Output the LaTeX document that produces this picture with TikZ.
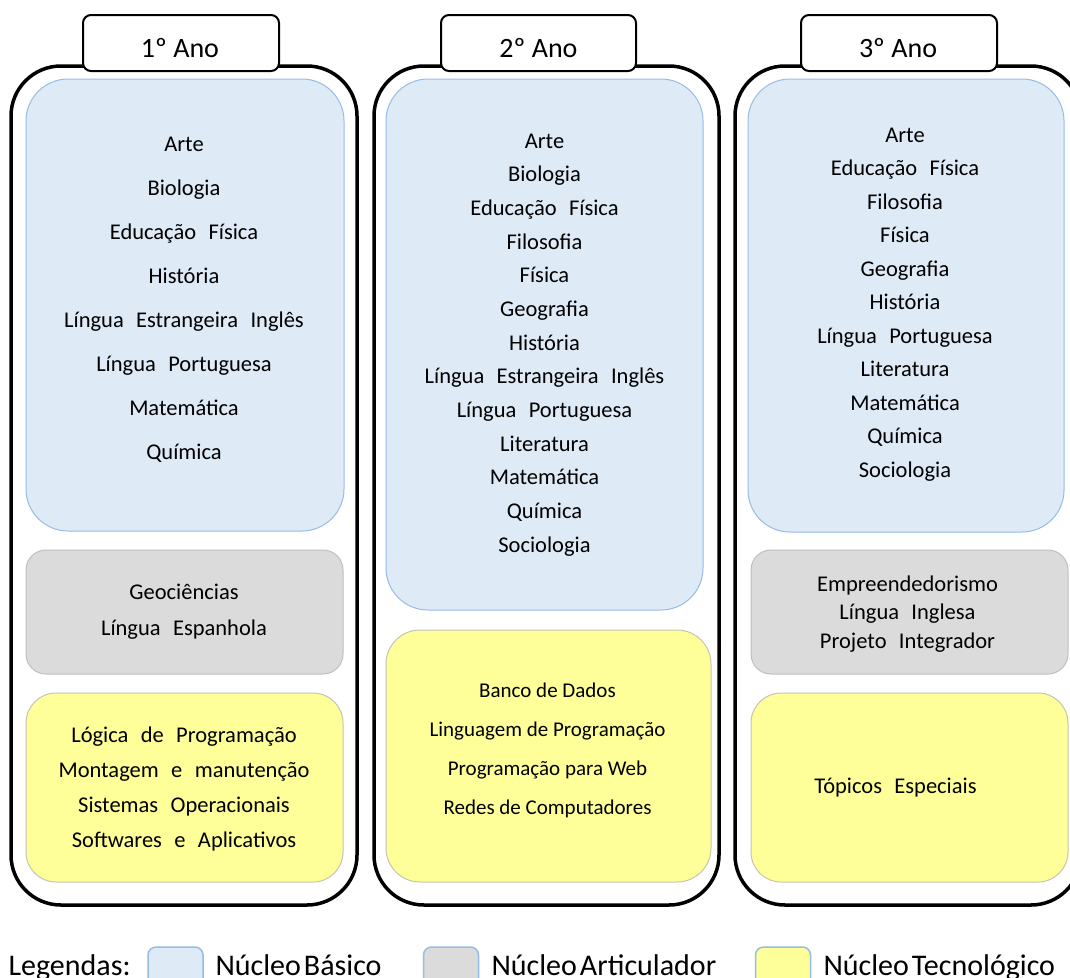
\documentclass[tikz,border=0pt]{standalone}
\usepackage{fontspec}
\setmainfont{Carlito}
\usepackage{tikz}

\newcommand\fontmateria{\fontsize{22.5}{27}\selectfont\spaceskip 0.55em\relax}
\newcommand\fontlegenda{\fontsize{30}{36}\selectfont\spaceskip 0.1em\relax}

\definecolor{basicofill}{HTML}{DEEAF6}
\definecolor{basicoline}{HTML}{95BDE6}
\definecolor{artfill}{HTML}{DBDBDB}
\definecolor{artline}{HTML}{BFBFBF}
\definecolor{tecfill}{HTML}{FFFF99}
\definecolor{tecline}{HTML}{C4C4B4}

\tikzset{
  yearbox/.style={draw, line width=3.5pt, rounded corners=50pt, fill=white, minimum width=346, minimum height=839},
  headbox/.style={draw, line width=2pt, rounded corners=8pt, fill=white, minimum width=196, minimum height=56},
  titulo/.style={anchor=base, font=\fontsize{28}{34}\selectfont},
  basico/.style={draw=basicoline, fill=basicofill, line width=1pt, rounded corners=42pt},
  articulador/.style={draw=artline, fill=artfill, line width=1pt, rounded corners=20pt},
  tecnologico/.style={draw=tecline, fill=tecfill, line width=1pt, rounded corners=30pt},
  materia/.style={anchor=base, font=\fontmateria},
  materiapeq/.style={anchor=base, font=\fontsize{21}{25}\selectfont},
  swatch/.style={draw=basicoline, line width=1.5pt, rounded corners=8pt, minimum width=55, minimum height=40},
  legenda/.style={anchor=base west, font=\fontlegenda}
}

\begin{document}
\begin{tikzpicture}[x=1pt, y=-1pt]
        \useasboundingbox (0,0) rectangle (1070,977);
        \fill[white] (0,0) rectangle (1070,977);

        \node (ano1) [yearbox] at (184,485.5) {};
        \node (ano2) [yearbox, minimum width=345] at (546.5,485.5) {};
        \node (ano3) [yearbox] at (908,485.5) {};

        \node (cab1) [headbox] at (181,43) {};
        \node (cab2) [headbox, minimum width=195] at (538.5,43) {};
        \node (cab3) [headbox] at (899,43) {};
        \node (tit1) [titulo] at (180,57) {1º Ano};
        \node (tit2) [titulo] at (538.5,57) {2º Ano};
        \node (tit3) [titulo] at (898,57) {3º Ano};

        \node (bas1) [basico, minimum width=318, minimum height=452] at (185,305) {};
        \node (art1) [articulador, minimum width=317, minimum height=124] at (184.5,612) {};
        \node (tec1) [tecnologico, minimum width=317, minimum height=189] at (184.5,787.5) {};

        \node (bas2) [basico, minimum width=317, minimum height=531] at (544.5,344.5) {};
        \node (tec2) [tecnologico, minimum width=325, minimum height=252, rounded corners=34pt] at (548.5,756) {};

        \node (bas3) [basico, minimum width=316, minimum height=453] at (906,305.5) {};
        \node (art3) [articulador, minimum width=317, minimum height=124] at (909.5,612) {};
        \node (tec3) [tecnologico, minimum width=317, minimum height=189] at (909.5,787.5) {};

        \foreach \nome [count=\i] in {Arte, Biologia, Educação Física, História, Língua Estrangeira Inglês, Língua Portuguesa, Matemática, Química}
            \node (mb1-\i) [materia] at (184,151+44*\i-44) {\nome};
        \foreach \nome [count=\i] in {Geociências, Língua Espanhola}
            \node (ma1-\i) [materia] at (184,599+36*\i-36) {\nome};
        \foreach \nome [count=\i] in {Lógica de Programação, Montagem e manutenção, Sistemas Operacionais, Softwares e Aplicativos}
            \node (mt1-\i) [materia] at (184,742+35*\i-35) {\nome};

        \foreach \nome [count=\i] in {Arte, Biologia, Educação Física, Filosofia, Física, Geografia, História, Língua Estrangeira Inglês, Língua Portuguesa, Literatura, Matemática, Química, Sociologia}
            \node (mb2-\i) [materia] at (544.5,148+33.67*\i-33.67) {\nome};
        \foreach \nome [count=\i] in {Banco de Dados, Linguagem de Programação, Programação para Web, Redes de Computadores}
            \node (mt2-\i) [materiapeq] at (547.5,697+39*\i-39) {\nome};

        \foreach \nome [count=\i] in {Arte, Educação Física, Filosofia, Física, Geografia, História, Língua Portuguesa, Literatura, Matemática, Química, Sociologia}
            \node (mb3-\i) [materia] at (905,142+33.5*\i-33.5) {\nome};
        \foreach \nome [count=\i] in {Empreendedorismo, Língua Inglesa, Projeto Integrador}
            \node (ma3-\i) [materia] at (907.5,591+28.5*\i-28.5) {\nome};
        \node (mt3-1) [materia] at (895.5,793) {Tópicos Especiais};

        \node (leg) [legenda] at (5,975) {Legendas:};
        \node (legbas) [swatch, fill=basicofill] at (175.5,967) {};
        \node (legart) [swatch, fill=artfill] at (451,967) {};
        \node (legtec) [swatch, fill=tecfill] at (783,967) {};
        \node (txtbas) [legenda] at (212,975) {Núcleo Básico};
        \node (txtart) [legenda] at (488,975) {Núcleo Articulador};
        \node (txttec) [legenda] at (820,975) {Núcleo Tecnológico};
    \end{tikzpicture}
\end{document}
